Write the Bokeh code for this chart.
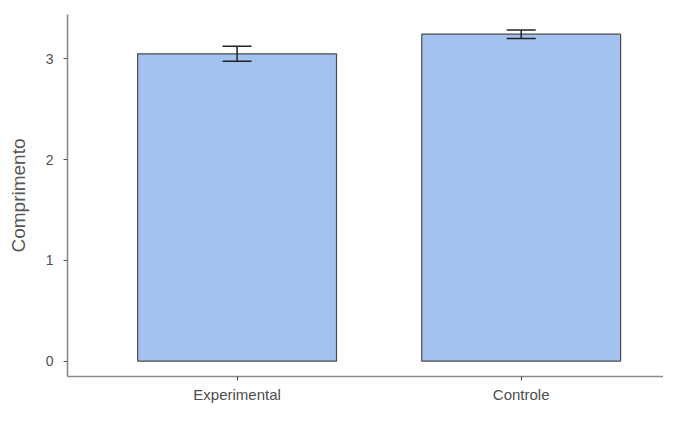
from bokeh.plotting import figure
from bokeh.models import Range1d, FixedTicker, ColumnDataSource, Whisker
from bokeh.embed import file_html
from bokeh.resources import INLINE

categories = ["Experimental", "Controle"]
means = [3.05, 3.245]
errors = [0.075, 0.042]
y_ticks = [0, 1, 2, 3]

xs = list(range(len(categories)))
src = ColumnDataSource(dict(
    x=xs, top=means,
    upper=[m + e for m, e in zip(means, errors)],
    lower=[m - e for m, e in zip(means, errors)],
))

p = figure(width=663, height=405, output_backend="svg", toolbar_location=None,
           x_range=Range1d(-0.597, 1.501), y_range=Range1d(-0.153, 3.44),
           min_border_left=67, min_border_right=0, min_border_top=14, min_border_bottom=26)

p.vbar(x="x", top="top", bottom=0, width=0.7, source=src,
       fill_color="#A4C2F0", line_color="#4a4a4a", line_width=1.2)

w = Whisker(base="x", upper="upper", lower="lower", source=src,
            line_color="#222222", line_width=1.5, level="overlay")
w.upper_head.size = 29
w.lower_head.size = 29
w.upper_head.line_color = "#222222"
w.lower_head.line_color = "#222222"
w.upper_head.line_width = 1.5
w.lower_head.line_width = 1.5
p.add_layout(w)

p.xgrid.visible = False
p.ygrid.visible = False
p.outline_line_color = None
p.background_fill_color = "white"

p.xaxis.ticker = FixedTicker(ticks=xs)
p.xaxis.major_label_overrides = {i: c for i, c in enumerate(categories)}
p.yaxis.ticker = FixedTicker(ticks=y_ticks)

for ax in (p.xaxis[0], p.yaxis[0]):
    ax.axis_line_color = "#8a8a8a"
    ax.axis_line_width = 1.6
    ax.major_tick_line_color = "#555555"
    ax.major_tick_line_width = 1.2
    ax.major_tick_out = 4
    ax.major_tick_in = 0
    ax.minor_tick_line_color = None
    ax.major_label_text_color = "#4d4d4d"
    ax.major_label_text_font = "Liberation Sans"

p.xaxis.major_label_text_font_size = "15px"
p.xaxis.major_label_standoff = 5
p.yaxis.major_label_text_font_size = "14px"
p.yaxis.major_label_standoff = 10

p.yaxis.axis_label = "Comprimento"
p.yaxis.axis_label_text_font = "Liberation Sans"
p.yaxis.axis_label_text_font_size = "19px"
p.yaxis.axis_label_text_font_style = "normal"
p.yaxis.axis_label_text_color = "#555555"
p.yaxis.axis_label_standoff = 14

open("out.html", "w").write(file_html(p, INLINE))
